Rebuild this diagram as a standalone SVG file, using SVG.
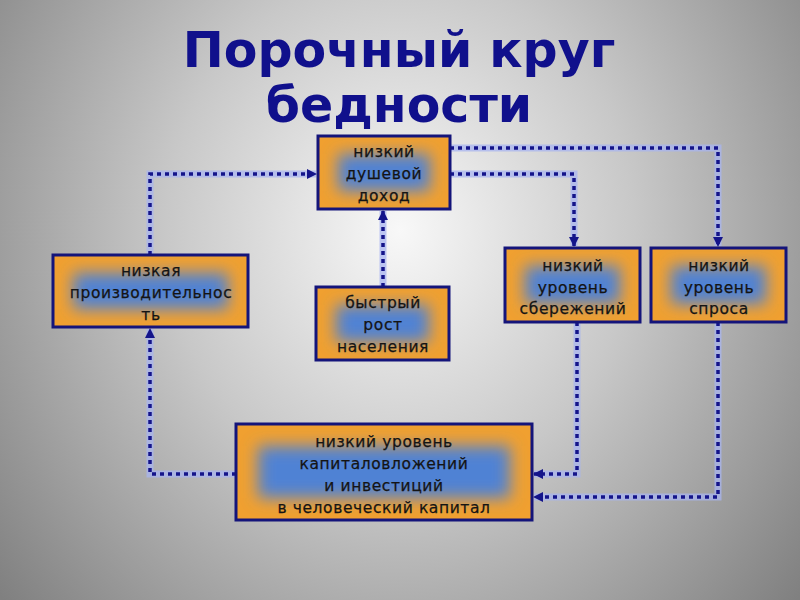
<svg xmlns="http://www.w3.org/2000/svg" width="800" height="600" viewBox="0 0 800 600">
<defs>
<radialGradient id="bg" cx="400" cy="230" r="520" gradientUnits="userSpaceOnUse" gradientTransform="translate(400 230) scale(1 1.1) translate(-400 -230)">
<stop offset="0" stop-color="#f8f8f8"/>
<stop offset="0.45" stop-color="#c8c8c8"/>
<stop offset="1" stop-color="#808080"/>
</radialGradient>
<filter id="blur" x="-50%" y="-50%" width="200%" height="200%">
<feGaussianBlur stdDeviation="8"/>
</filter>
<marker id="arr" viewBox="0 0 10 10" refX="9" refY="5" markerWidth="10" markerHeight="10" markerUnits="userSpaceOnUse" orient="auto">
<path d="M0,0 L10,5 L0,10 Z" fill="#14148a"/>
</marker>
</defs>
<style>
.box{fill:#f0a030;stroke:#14147a;stroke-width:3}
.core{fill:#4f82d4;filter:url(#blur)}
.t{font-family:"DejaVu Sans",sans-serif;font-size:15.5px;fill:#141414;text-anchor:middle;letter-spacing:0.6px;stroke:#141414;stroke-width:0.25}
.title{font-family:"DejaVu Sans",sans-serif;font-weight:bold;font-size:49px;fill:#10108c;text-anchor:middle}
.halo{fill:none;stroke:#a8b4f0;stroke-width:7;stroke-opacity:0.75}
.dot{fill:none;stroke:#14148a;stroke-width:3.5;stroke-dasharray:4 4;marker-end:url(#arr)}
</style>
<rect width="800" height="600" fill="url(#bg)"/>
<g id="title">
<text class="title" x="399" y="67">Порочный круг</text>
<text class="title" x="399" y="122">бедности</text>
</g>
<g id="connectors">
<path class="halo" d="M150,255 V174 H316"/>
<path class="halo" d="M236,474 H150 V329"/>
<path class="halo" d="M450,174 H574 V246"/>
<path class="halo" d="M450,148 H718 V246"/>
<path class="halo" d="M383,287 V211"/>
<path class="halo" d="M577,322 V474 H534"/>
<path class="halo" d="M718,322 V497 H534"/>
<path class="dot" d="M150,255 V174 H316"/>
<path class="dot" d="M236,474 H150 V329"/>
<path class="dot" d="M450,174 H574 V246"/>
<path class="dot" d="M450,148 H718 V246"/>
<path class="dot" d="M383,287 V211"/>
<path class="dot" d="M577,322 V474 H534"/>
<path class="dot" d="M718,322 V497 H534"/>
</g>
<g id="income">
<rect class="box" x="318" y="136" width="132" height="73"/>
<rect class="core" x="338" y="154" width="92" height="37"/>
<text class="t" x="384" y="157">низкий</text>
<text class="t" x="384" y="179">душевой</text>
<text class="t" x="384" y="201">доход</text>
</g>
<g id="productivity">
<rect class="box" x="53" y="255" width="195" height="72"/>
<rect class="core" x="73" y="273" width="155" height="36"/>
<text class="t" x="151" y="276">низкая</text>
<text class="t" x="151" y="298">производительнос</text>
<text class="t" x="151" y="320">ть</text>
</g>
<g id="population">
<rect class="box" x="316" y="287" width="133" height="73"/>
<rect class="core" x="336" y="305" width="93" height="37"/>
<text class="t" x="383" y="308">быстрый</text>
<text class="t" x="383" y="330">рост</text>
<text class="t" x="383" y="352">населения</text>
</g>
<g id="savings">
<rect class="box" x="505" y="248" width="135" height="74"/>
<rect class="core" x="525" y="266" width="95" height="38"/>
<text class="t" x="573" y="271">низкий</text>
<text class="t" x="573" y="293">уровень</text>
<text class="t" x="573" y="314">сбережений</text>
</g>
<g id="demand">
<rect class="box" x="651" y="248" width="135" height="74"/>
<rect class="core" x="671" y="266" width="95" height="38"/>
<text class="t" x="719" y="271">низкий</text>
<text class="t" x="719" y="293">уровень</text>
<text class="t" x="719" y="314">спроса</text>
</g>
<g id="investment">
<rect class="box" x="236" y="424" width="296" height="96"/>
<rect class="core" x="258" y="446" width="252" height="52"/>
<text class="t" x="384" y="447">низкий уровень</text>
<text class="t" x="384" y="469">капиталовложений</text>
<text class="t" x="384" y="491">и инвестиций</text>
<text class="t" x="384" y="513">в человеческий капитал</text>
</g>
</svg>
